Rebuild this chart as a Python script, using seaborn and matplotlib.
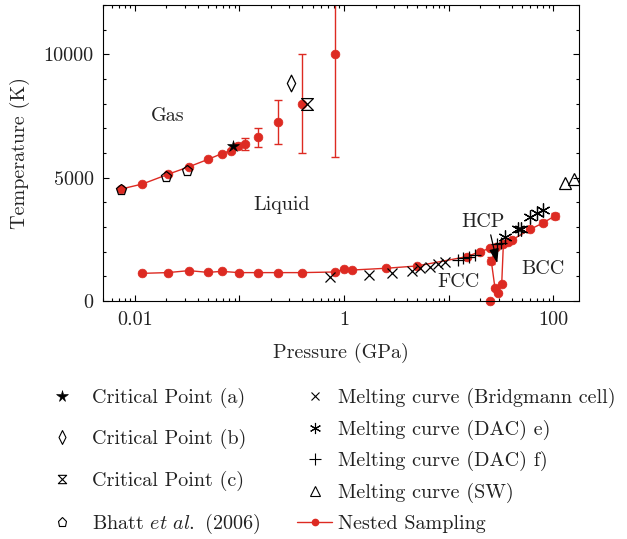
import numpy as np
import matplotlib
matplotlib.use("Agg")
import matplotlib.pyplot as plt
from matplotlib.path import Path
from matplotlib.lines import Line2D
from matplotlib.ticker import FixedLocator, FixedFormatter, LogLocator, NullFormatter, MultipleLocator
import seaborn as sns

# ---------------- data ----------------
# Nested sampling: liquid-gas coexistence line
ns_gas_p = [0.0074, 0.0118, 0.0206, 0.0329, 0.050, 0.0677, 0.0825, 0.0977, 0.114]
ns_gas_t = [4540, 4740, 5130, 5440, 5740, 5970, 6100, 6290, 6360]
ns_gas_err = [0, 0, 0, 0, 0, 0, 0, 120, 240]

# Nested sampling: near-critical points (large uncertainties)
ns_crit_p = [0.149, 0.231, 0.394, 0.81]
ns_crit_t = [6630, 7250, 8000, 10000]
ns_crit_err = [390, 890, 2000, 4170]

# Nested sampling: melting line (path order)
ns_melt_p = [0.0118, 0.0206, 0.0329, 0.050, 0.0677, 0.0989, 0.149, 0.231, 0.394,
             0.81, 1.0, 1.20, 2.50, 4.99, 14.8, 19.9, 24.9, 28.5, 25.5, 27.7,
             29.8, 32.1, 33.3, 36.5, 40.0, 59.8, 80.2, 104.0]
ns_melt_t = [1120, 1150, 1230, 1160, 1200, 1150, 1150, 1150, 1150,
             1175, 1280, 1255, 1325, 1420, 1795, 2000, 2135, 2200, 1630, 515,
             335, 690, 2310, 2390, 2470, 2900, 3170, 3455]
ns_melt_err = [0, 0, 0, 0, 0, 0, 0, 0, 0,
               0, 0, 0, 0, 0, 0, 0, 0, 0, 150, 0,
               0, 0, 0, 0, 0, 0, 100, 130]

# isolated nested-sampling point at zero temperature
ns_zero_p = [25.0]
ns_zero_t = [0]

# Reference data
crit_a_p, crit_a_t = [0.087], [6290]
crit_b_p, crit_b_t = [0.309], [8820]
crit_c_p, crit_c_t = [0.442], [7980]
bhatt_p = [0.0074, 0.0200, 0.0314]
bhatt_t = [4500, 5010, 5265]
bridg_p = [0.73, 1.73, 2.90, 4.42, 5.30, 6.61, 7.94, 9.18]
bridg_t = [985, 1055, 1120, 1225, 1325, 1390, 1485, 1590]
dac_e_p = [34.5, 46.2, 49.0, 59.8, 69.3, 79.1]
dac_e_t = [2600, 2900, 2935, 3415, 3550, 3685]
dac_f_p = [12.3, 13.8, 15.6, 17.8, 28.9, 31.6]
dac_f_t = [1680, 1740, 1800, 1865, 2310, 2350]
sw_p = [129, 158]
sw_t = [4780, 4940]

x_tick_vals = [0.01, 1, 100]
x_tick_labels = ["0.01", "1", "100"]
y_tick_vals = [0, 5000, 10000]
y_tick_labels = ["0", "5000", "10000"]

# ---------------- style ----------------
sns.set_theme(style="ticks")
plt.rcParams.update({
    "font.family": "cmr10",
    "mathtext.fontset": "cm",
    "axes.formatter.use_mathtext": True,
    "axes.unicode_minus": False,
    "font.size": 14.5,
    "axes.linewidth": 0.8,
    "axes.edgecolor": "black",
    "xtick.color": "black",
    "ytick.color": "black",
    "text.color": "#222222",
})

RED = "#dd2a22"
FS = 14.5
hourglass = Path([(-1, 1), (1, 1), (-1, -1), (1, -1), (-1, 1)],
                 [Path.MOVETO, Path.LINETO, Path.LINETO, Path.LINETO, Path.CLOSEPOLY])
slim_diamond = Path([(0, 1), (0.5, 0), (0, -1), (-0.5, 0), (0, 1)],
                    [Path.MOVETO, Path.LINETO, Path.LINETO, Path.LINETO, Path.CLOSEPOLY])

fig = plt.figure(figsize=(6.27, 5.39), dpi=100)
ax = fig.add_axes([0.1648, 0.4416, 0.7587, 0.5492])
ax.set_xscale("log")

# ---------------- nested sampling ----------------
line_kw = dict(color=RED, marker="o", markersize=6.3, markeredgecolor=RED,
               markeredgewidth=0.5, linewidth=1.0, sort=False, estimator=None)
sns.lineplot(x=ns_gas_p, y=ns_gas_t, ax=ax, **line_kw)
sns.lineplot(x=ns_melt_p, y=ns_melt_t, ax=ax, **line_kw)
sns.lineplot(x=ns_crit_p, y=ns_crit_t, ax=ax, linestyle="", **line_kw)
sns.lineplot(x=ns_zero_p, y=ns_zero_t, ax=ax, linestyle="", clip_on=False, **line_kw)

eb_kw = dict(fmt="none", ecolor=RED, elinewidth=1.0, capsize=3, capthick=1.0)
ax.errorbar(ns_gas_p, ns_gas_t, yerr=ns_gas_err, **eb_kw)
ax.errorbar(ns_crit_p, ns_crit_t, yerr=ns_crit_err, **eb_kw)
ax.errorbar(ns_melt_p, ns_melt_t, yerr=ns_melt_err, **eb_kw)

# ---------------- reference data ----------------
def markers(px, ty, marker, size, filled=False, mew=0.9):
    sns.lineplot(x=px, y=ty, ax=ax, linestyle="", marker=marker, markersize=size,
                 color="black", markeredgecolor="black",
                 markerfacecolor="black" if filled else "none",
                 markeredgewidth=mew, sort=False, estimator=None)

markers(bridg_p, bridg_t, "x", 7)
markers(dac_f_p, dac_f_t, "+", 9)
markers(dac_e_p, dac_e_t, (6, 2, 0), 10)
markers(sw_p, sw_t, "^", 8)
markers(bhatt_p, bhatt_t, "p", 8)
markers(crit_a_p, crit_a_t, "*", 9, filled=True, mew=0.4)
markers(crit_b_p, crit_b_t, slim_diamond, 12)
markers(crit_c_p, crit_c_t, hourglass, 8.5)

# ---------------- annotations ----------------
ax.text(0.0207, 7500, "Gas", ha="center", va="center", fontsize=FS)
ax.text(0.252, 3900, "Liquid", ha="center", va="center", fontsize=FS)
ax.text(21.4, 3210, "HCP", ha="center", va="center", fontsize=FS)
ax.text(12.3, 780, "FCC", ha="center", va="center", fontsize=FS)
ax.text(80.2, 1290, "BCC", ha="center", va="center", fontsize=FS)
ax.annotate("", xy=(29.1, 1530), xytext=(25.2, 2680),
            arrowprops=dict(arrowstyle="-|>,head_length=0.6,head_width=0.2",
                            color="black", lw=0.9, shrinkA=0, shrinkB=0))

# ---------------- axes ----------------
ax.set_xlim(0.005, 176)
ax.set_ylim(0, 12000)
ax.xaxis.set_major_locator(LogLocator(base=10, numticks=12))
ax.xaxis.set_minor_locator(LogLocator(base=10, subs=np.arange(2, 10), numticks=12))
ax.xaxis.set_minor_formatter(NullFormatter())
x_label_map = dict(zip(x_tick_vals, x_tick_labels))


def x_fmt(v, pos):
    for t, s in x_label_map.items():
        if abs(np.log10(v) - np.log10(t)) < 1e-6:
            return s
    return ""


ax.xaxis.set_major_formatter(plt.FuncFormatter(x_fmt))
ax.yaxis.set_major_locator(FixedLocator(y_tick_vals))
ax.yaxis.set_major_formatter(FixedFormatter(y_tick_labels))
ax.yaxis.set_minor_locator(MultipleLocator(1000))
ax.tick_params(which="both", direction="in", top=True, right=True,
               labelsize=FS, width=0.8, colors="black")
ax.tick_params(which="major", length=4.5, pad=7)
ax.tick_params(which="minor", length=2.5)
for lab in ax.get_xticklabels() + ax.get_yticklabels():
    lab.set_color("#222222")

ax.set_xlabel("Pressure (GPa)", fontsize=FS)
ax.set_ylabel("Temperature (K)", fontsize=FS)
ax.xaxis.set_label_coords(0.5, -0.142)
ax.yaxis.set_label_coords(-0.155, 0.5)

# ---------------- legends ----------------
def h(marker, size, filled=False, mew=0.8):
    return Line2D([], [], linestyle="", marker=marker, markersize=size, color="black",
                  markerfacecolor="black" if filled else "none", markeredgewidth=mew)

left_handles = [h("*", 8.5, filled=True, mew=0.4), h(slim_diamond, 10), h(hourglass, 6), h("p", 6.5)]
left_labels = ["Critical Point (a)", "Critical Point (b)", "Critical Point (c)",
               r"Bhatt $\mathit{et\ al.}$ (2006)"]
right_handles = [h("x", 6), h((6, 2, 0), 8), h("+", 8), h("^", 6.5),
                 Line2D([], [], color=RED, marker="o", markersize=4.5, lw=1.0)]
right_labels = ["Melting curve (Bridgmann cell)", "Melting curve (DAC) e)",
                "Melting curve (DAC) f)", "Melting curve (SW)", "Nested Sampling"]

leg_kw = dict(frameon=False, fontsize=FS, borderpad=0, borderaxespad=0,
              handlelength=1.75, loc="upper left")
fig.legend(left_handles, left_labels, bbox_to_anchor=(0.071, 0.280),
           labelspacing=1.05, handletextpad=0.6, **leg_kw)
fig.legend(right_handles, right_labels, bbox_to_anchor=(0.4737, 0.280),
           labelspacing=0.57, handletextpad=0.3, **leg_kw)

fig.savefig("out.png", dpi=100)
